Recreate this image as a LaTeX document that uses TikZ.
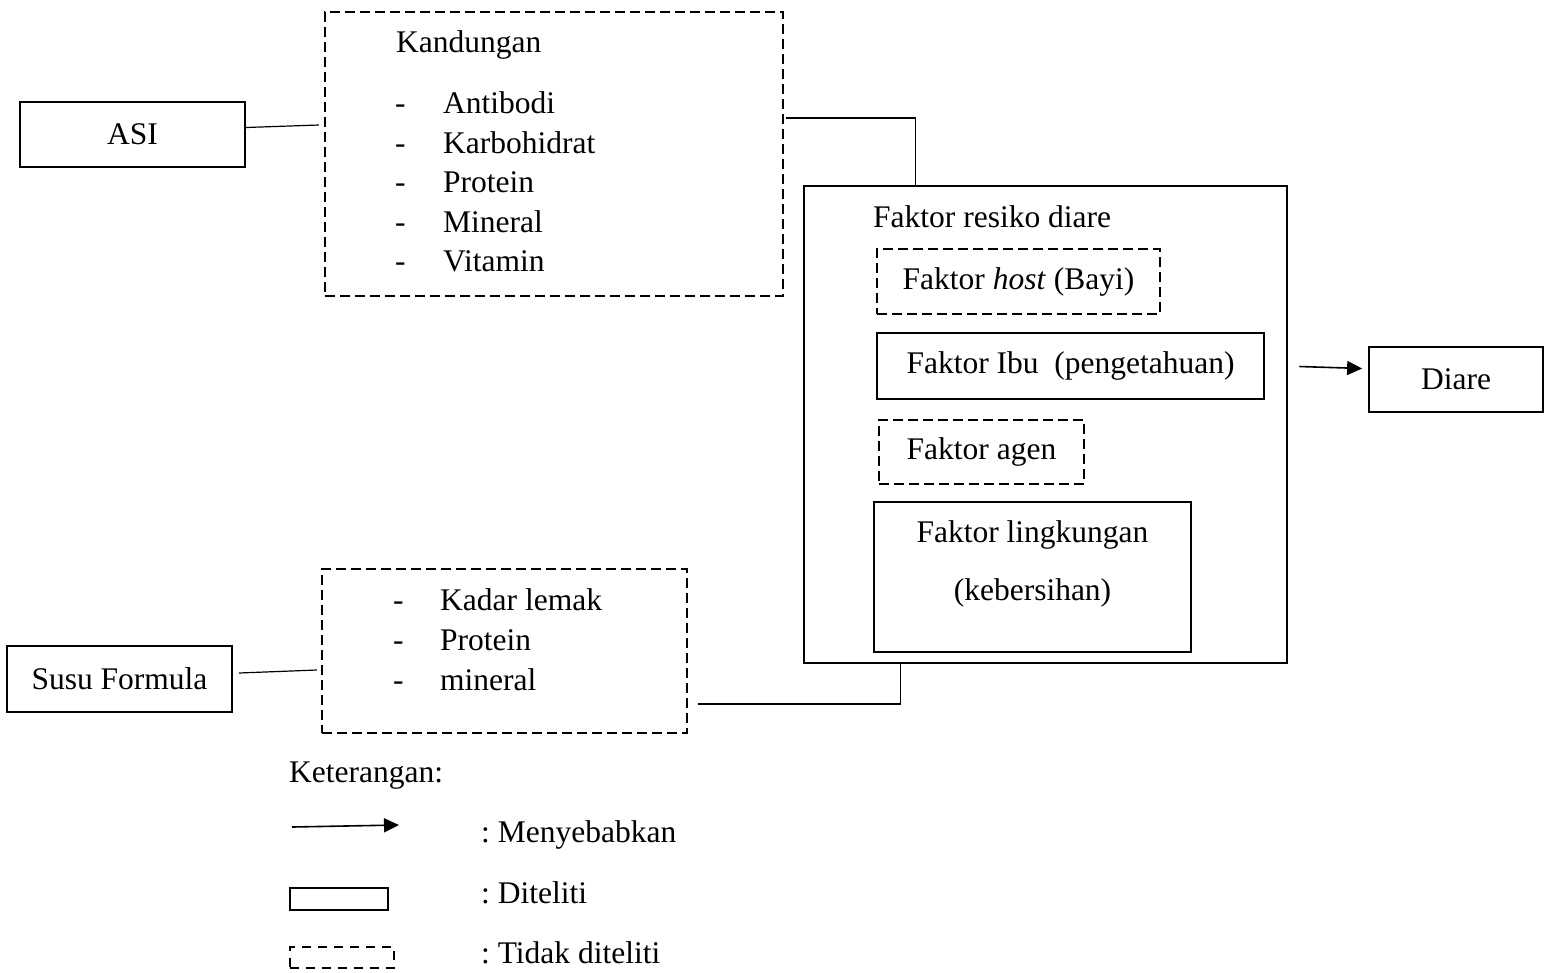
\documentclass[tikz,border=0pt]{standalone}
\usepackage{fontspec}
\setmainfont{Liberation Serif}
\usetikzlibrary{arrows.meta}
\tikzset{
  solidbox/.style={draw, line width=1.8pt, inner sep=0pt},
  dashedbox/.style={draw, line width=2.3pt, dash pattern=on 10pt off 5pt, inner sep=0pt},
  txt/.style={anchor=base west, inner sep=0pt},
  link/.style={line width=1.2pt},
  cause/.style={line width=1.6pt, -{Triangle[length=15pt,width=14pt]}}
}
\begin{document}
\frenchspacing
\begin{tikzpicture}[x=1pt, y=-1pt, font=\fontsize{31.5}{39.5}\selectfont]
    \useasboundingbox (0,0) rectangle (1544,972);

    % ASI and its contents
    \node[solidbox, minimum width=225pt, minimum height=65pt] (asi) at (132.5,134.5) {ASI};
    \node[dashedbox, minimum width=458pt, minimum height=284pt] (kand) at (554,154) {};
    \node[txt] (kandT) at (396,52) {Kandungan};
    \foreach \y/\t in {113/Antibodi, 153/Karbohidrat, 192/Protein, 232/Mineral, 271/Vitamin} {
        \node[txt] (kd\y) at (395,\y) {-};
        \node[txt] (ki\y) at (443,\y) {\t};
    }

    % susu formula and its contents
    \node[solidbox, minimum width=225pt, minimum height=66pt] (susu) at (119.5,679) {Susu Formula};
    \node[dashedbox, minimum width=365pt, minimum height=164pt] (kom) at (504.5,651) {};
    \foreach \y/\t in {610/Kadar lemak, 650/Protein, 690/mineral} {
        \node[txt] (sd\y) at (393,\y) {-};
        \node[txt] (si\y) at (440,\y) {\t};
    }

    % risk factors
    \node[solidbox, line width=2.6pt, minimum width=483pt, minimum height=477pt] (faktor) at (1045.5,424.5) {};
    \node[txt] (faktorT) at (873,227) {Faktor resiko diare};
    \node[dashedbox, minimum width=283pt, minimum height=65pt] (host) at (1018.5,281.5) {Faktor \textit{host} (Bayi)};
    \node[solidbox, line width=2.6pt, minimum width=387pt, minimum height=66pt] (ibu) at (1070.5,366) {Faktor Ibu~ (pengetahuan)};
    \node[dashedbox, minimum width=205pt, minimum height=64pt] (agen) at (981.5,452) {Faktor agen};
    \node[solidbox, minimum width=317pt, minimum height=150pt] (ling) at (1032.5,577) {};
    \node[anchor=base, inner sep=0pt] (lingA) at (1032.5,542) {Faktor lingkungan};
    \node[anchor=base, inner sep=0pt] (lingB) at (1032.5,600) {(kebersihan)};

    \node[solidbox, minimum width=174pt, minimum height=65pt] (diare) at (1456,379.5) {Diare};

    % connectors
    \draw[link] ([yshift=7pt]asi.east) -- ([xshift=-5pt,yshift=29pt]kand.west);
    \draw[link] ([xshift=2pt,yshift=36pt]kand.east) -| ([xshift=-130pt]faktor.north);
    \draw[link] ([xshift=6pt,yshift=6pt]susu.east) -- ([xshift=-4pt,yshift=-19pt]kom.west);
    \draw[link] ([xshift=10pt,yshift=-53pt]kom.east) -| ([xshift=-145pt]faktor.south);
    \draw[cause] ([xshift=11pt,yshift=58pt]faktor.east) -- ([xshift=-6pt,yshift=11pt]diare.west);

    % legend
    \node[txt] (ket) at (289,782) {Keterangan:};
    \coordinate (lgA) at (292,827);
    \coordinate (lgB) at (399,825);
    \draw[cause] (lgA) -- (lgB);
    \node[txt] (lg1) at (481,842) {: Menyebabkan};
    \node[solidbox, minimum width=98pt, minimum height=22pt] (lgsolid) at (339,899) {};
    \node[txt] (lg2) at (481,903) {: Diteliti};
    \node[dashedbox, dash pattern=on 9pt off 7pt, minimum width=104pt, minimum height=21pt] (lgdash) at (342,957.5) {};
    \node[txt] (lg3) at (481,963) {: Tidak diteliti};
\end{tikzpicture}
\end{document}
